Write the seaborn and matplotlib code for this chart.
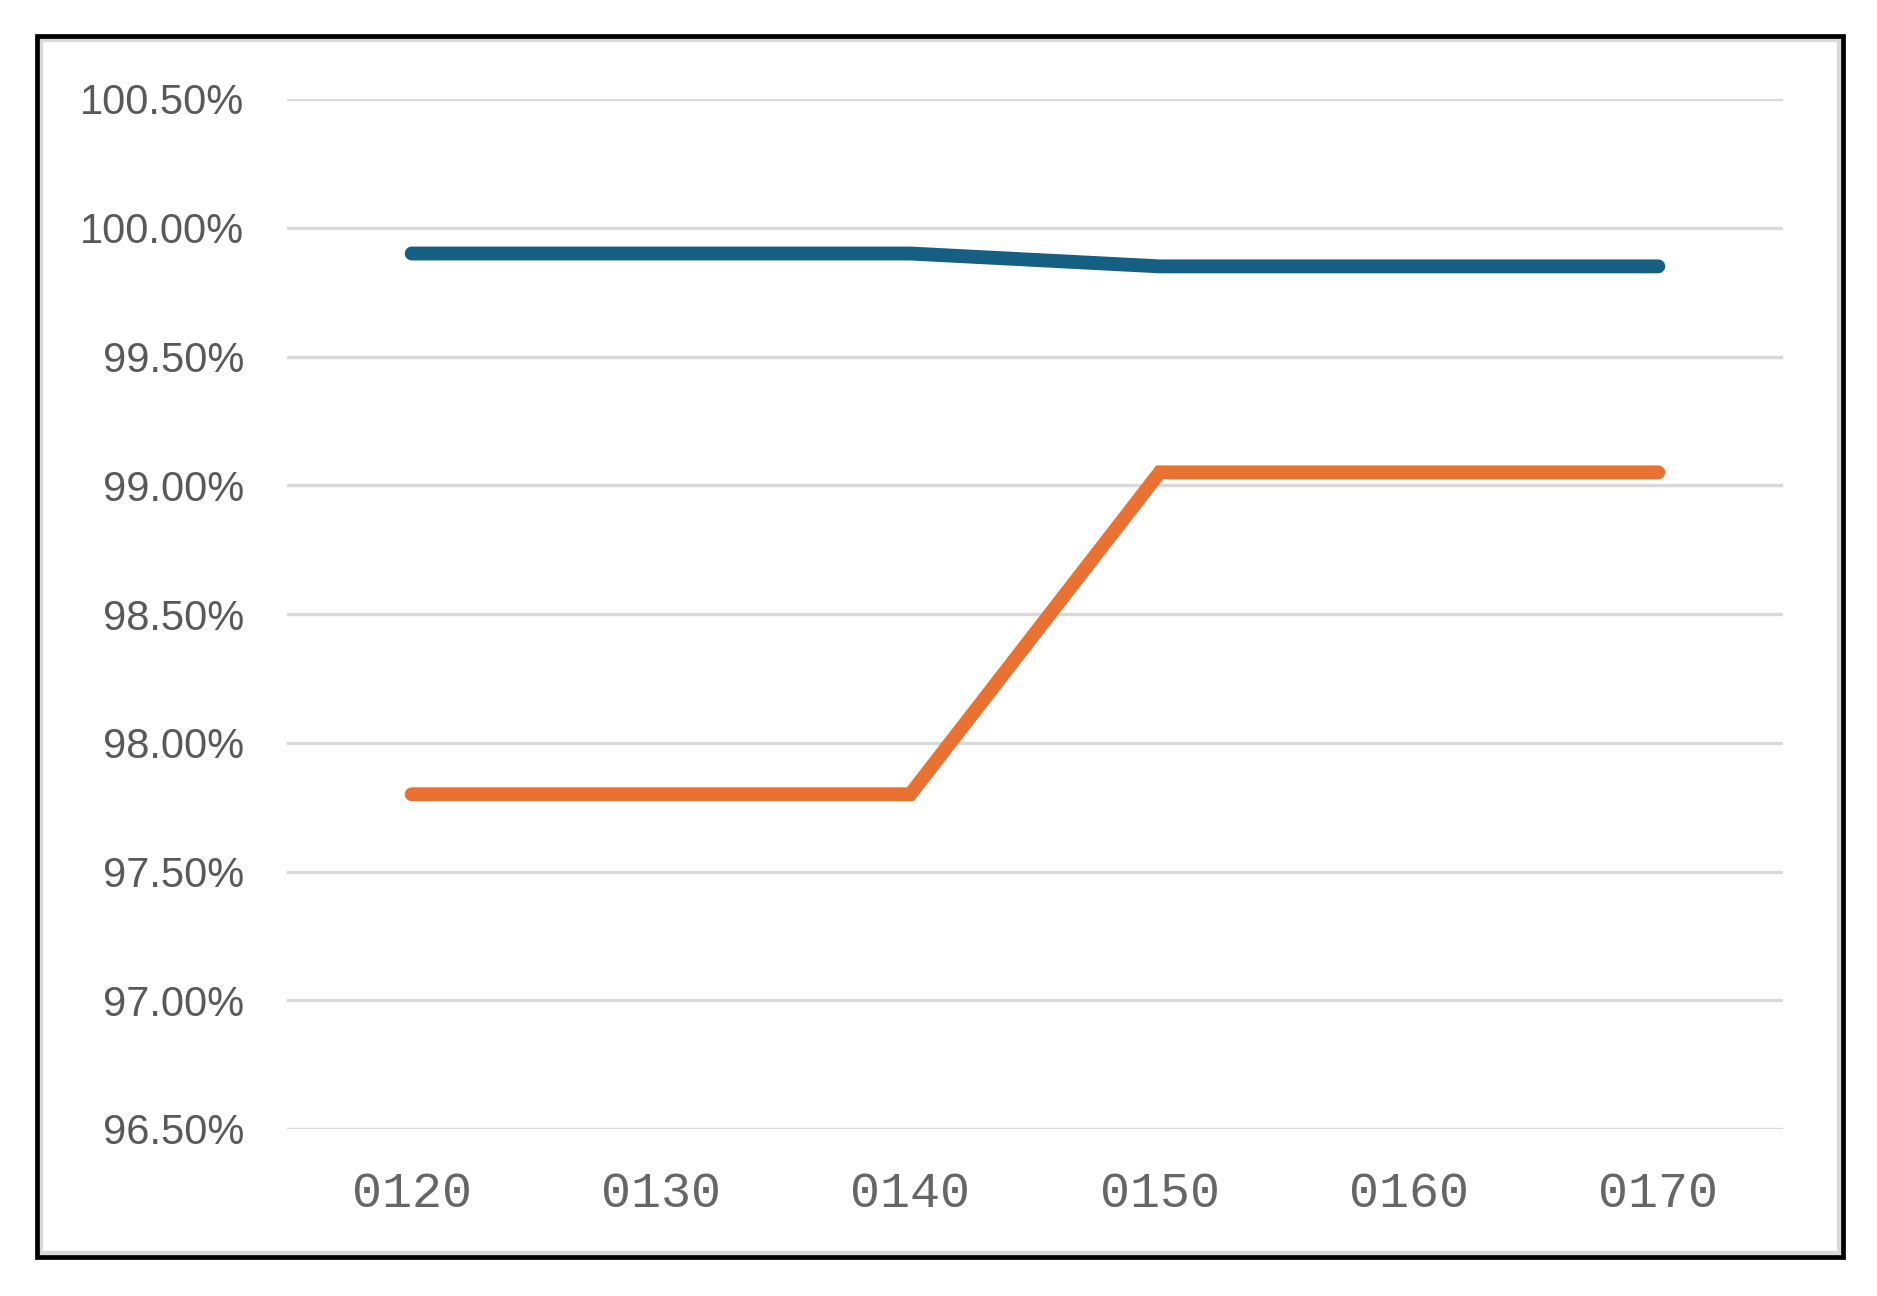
import numpy as np
import pandas as pd
import matplotlib
matplotlib.use("Agg")
import matplotlib.pyplot as plt
from matplotlib.patches import Rectangle
from matplotlib.ticker import FuncFormatter
import seaborn as sns

# data
categories = ["0120", "0130", "0140", "0150", "0160", "0170"]
series_a = [99.90, 99.90, 99.90, 99.85, 99.85, 99.85]
series_b = [97.80, 97.80, 97.80, 99.05, 99.05, 99.05]
y_ticks = [96.5, 97.0, 97.5, 98.0, 98.5, 99.0, 99.5, 100.0, 100.5]

df = pd.DataFrame({
    "code": categories * 2,
    "value": series_a + series_b,
    "series": ["A"] * len(categories) + ["B"] * len(categories),
})

sns.set_theme(style="white")
plt.rcParams["font.family"] = ["Liberation Sans", "DejaVu Sans"]

W, H = 1877, 1296
fig = plt.figure(figsize=(W / 100, H / 100), dpi=100)
ax = fig.add_axes([287 / W, 1 - 1129 / H, 1496 / W, 1030 / H])

sns.lineplot(data=df, x="code", y="value", hue="series",
             palette={"A": "#156082", "B": "#E97132"},
             linewidth=10, solid_capstyle="round", solid_joinstyle="miter",
             legend=False, ax=ax, zorder=3)

ax.set_xlim(-0.5, len(categories) - 0.5)
ax.set_ylim(96.5, 100.5)
ax.set_yticks(y_ticks)
ax.yaxis.set_major_formatter(FuncFormatter(lambda v, _: f"{v:.2f}%"))
ax.grid(axis="y", color="#d9d9d9", linewidth=2.4)
ax.grid(axis="x", visible=False)
ax.set_axisbelow(True)
for s in ax.spines.values():
    s.set_visible(False)
ax.set_xlabel("")
ax.set_ylabel("")
ax.tick_params(axis="y", length=0, pad=31, labelsize=30, labelcolor="#595959")
ax.tick_params(axis="x", length=0, pad=30, labelcolor="#666666")
for lab in ax.get_xticklabels():
    lab.set_fontfamily(["Liberation Mono", "DejaVu Sans Mono"])
    lab.set_fontsize(36)

# outer frame: black border with thin grey inner line
fig.patches.append(Rectangle((41 / W, 1 - 1253 / H), 1798 / W, 1213 / H,
                             transform=fig.transFigure, fill=False,
                             edgecolor="#d9d9d9", linewidth=3))
fig.patches.append(Rectangle((37 / W, 1 - 1257 / H), 1806 / W, 1221 / H,
                             transform=fig.transFigure, fill=False,
                             edgecolor="black", linewidth=3.4))

fig.savefig("out.png", dpi=100)
